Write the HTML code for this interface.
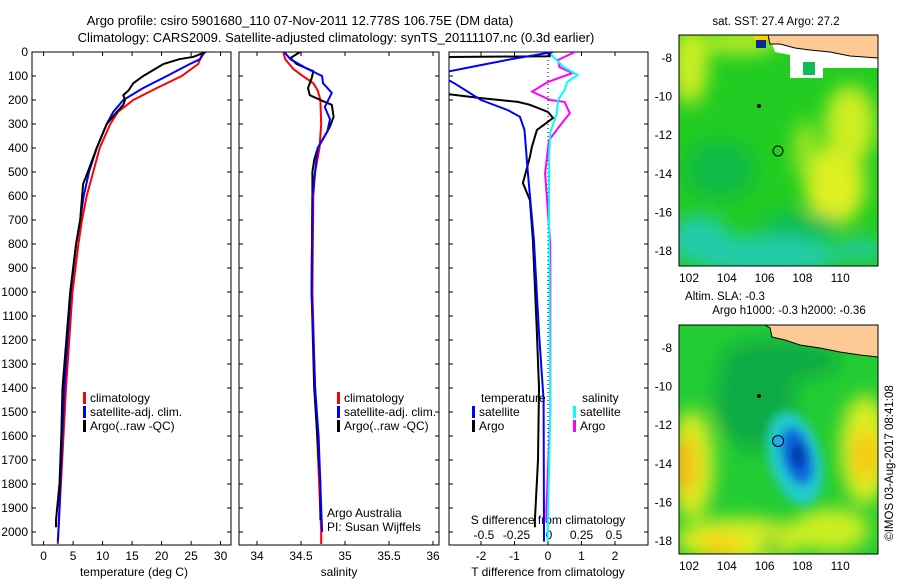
<!DOCTYPE html>
<html><head><meta charset="utf-8"><style>
body{margin:0;background:#fff;width:900px;height:580px;overflow:hidden;font-family:"Liberation Sans",sans-serif}
svg text{font-family:"Liberation Sans",sans-serif;fill:#000}
</style></head><body>
<svg id="c" width="900" height="580" xmlns="http://www.w3.org/2000/svg">
<defs>
<filter id="bl" x="-50%" y="-50%" width="200%" height="200%"><feGaussianBlur stdDeviation="9"/></filter>
<filter id="bl2" x="-50%" y="-50%" width="200%" height="200%"><feGaussianBlur stdDeviation="5"/></filter>
<clipPath id="cp1"><rect x="32" y="52" width="199" height="493"/></clipPath>
<clipPath id="cp2"><rect x="239" y="52" width="200" height="493"/></clipPath>
<clipPath id="cp3"><rect x="449" y="52" width="199" height="493"/></clipPath>
<clipPath id="cm1"><rect x="679" y="35" width="199" height="231"/></clipPath>
<clipPath id="cm2"><rect x="679" y="325" width="199" height="229"/></clipPath>
</defs>
<text x="300" y="25" font-size="13" text-anchor="middle">Argo profile: csiro 5901680_110 07-Nov-2011 12.778S 106.75E (DM data)</text>
<text x="336" y="42" font-size="13" text-anchor="middle">Climatology: CARS2009. Satellite-adjusted climatology: synTS_20111107.nc (0.3d earlier)</text>
<g id="g"></g>
<!-- maps -->
<g>
<text x="776" y="25" font-size="11.5" text-anchor="middle">sat. SST: 27.4 Argo: 27.2</text>
<g clip-path="url(#cm1)">
<rect x="679" y="35" width="199" height="231" fill="#22cc22"/>
<g filter="url(#bl)">
<ellipse cx="690" cy="65" rx="18" ry="40" fill="#ccee22"/>
<ellipse cx="740" cy="42" rx="40" ry="12" fill="#bbee22"/>
<ellipse cx="835" cy="185" rx="30" ry="40" fill="#ddf022"/>
<ellipse cx="850" cy="125" rx="25" ry="40" fill="#ccee22"/>
<ellipse cx="805" cy="150" rx="12" ry="30" fill="#99e622"/>
<ellipse cx="720" cy="170" rx="35" ry="30" fill="#11bb44"/>
<ellipse cx="765" cy="255" rx="75" ry="20" fill="#22ccaa"/>
<ellipse cx="700" cy="240" rx="30" ry="25" fill="#22ccaa"/>
<ellipse cx="860" cy="250" rx="25" ry="12" fill="#22cc99"/>
<ellipse cx="800" cy="225" rx="40" ry="12" fill="#11bb55"/>
</g>
<path d="M770,38 L800,44 L878,55 L878,68 L823,68 L823,78 L790,78 L790,55 L775,52Z" fill="#fff"/>
<rect x="803" y="62" width="12" height="13" fill="#11bb55"/>
<path d="M768,35 L878,35 L878,58 L850,56 L830,52 L810,50 L795,48 L780,44 L770,44Z" fill="#fdca96" stroke="#000" stroke-width="1"/>
<rect x="756" y="40" width="10" height="8" fill="#0a2a9a"/>
<rect x="754" y="36" width="14" height="4" fill="#ffcc00"/>
<circle cx="759" cy="106" r="2" fill="#000"/>
<circle cx="778" cy="151" r="5" fill="none" stroke="#000"/>
</g>
<rect x="679" y="35" width="199" height="231" fill="none" stroke="#000"/>
</g>
<g>
<text x="725" y="300" font-size="11.5" text-anchor="middle">Altim. SLA: -0.3</text>
<text x="789" y="314" font-size="11.5" text-anchor="middle">Argo h1000: -0.3 h2000: -0.36</text>
<g clip-path="url(#cm2)">
<rect x="679" y="325" width="199" height="229" fill="#22cc33"/>
<g filter="url(#bl)">
<ellipse cx="692" cy="465" rx="22" ry="55" fill="#ddee22"/>
<ellipse cx="684" cy="465" rx="10" ry="30" fill="#ffaa11"/>
<ellipse cx="865" cy="450" rx="25" ry="55" fill="#ddee22"/>
<ellipse cx="865" cy="455" rx="10" ry="25" fill="#ffbb11"/>
<ellipse cx="740" cy="540" rx="65" ry="22" fill="#ddee22"/>
<ellipse cx="720" cy="545" rx="20" ry="10" fill="#ffcc11"/>
<ellipse cx="830" cy="530" rx="40" ry="22" fill="#ccee22"/>
<ellipse cx="772" cy="545" rx="10" ry="10" fill="#22cc33"/>
<ellipse cx="755" cy="400" rx="40" ry="50" fill="#11aa44"/>
<ellipse cx="780" cy="360" rx="60" ry="20" fill="#11aa44"/>
</g>
<g filter="url(#bl2)">
<ellipse cx="795" cy="458" rx="26" ry="48" fill="#22cccc" transform="rotate(-15 795 458)"/>
<ellipse cx="797" cy="456" rx="15" ry="30" fill="#1166dd" transform="rotate(-15 797 456)"/>
<ellipse cx="798" cy="456" rx="7" ry="13" fill="#0033aa"/>
</g>
<path d="M765,325 L878,325 L878,357 L860,355 L840,352 L820,348 L800,345 L785,340 L772,337 L770,328Z" fill="#fdca96" stroke="#000" stroke-width="1"/>
<circle cx="759" cy="396" r="2" fill="#000"/>
<circle cx="778" cy="441" r="5.5" fill="#22aaee" stroke="#000"/>
</g>
<rect x="679" y="325" width="199" height="229" fill="none" stroke="#000"/>
</g>
<text transform="translate(893,463) rotate(-90)" font-size="11.5" text-anchor="middle">©IMOS 03-Aug-2017 08:41:08</text>
</svg>
<script>
// ---- data ----
const tDepthRed=[0,50,100,150,200,250,300,400,500,600,700,800,1000,1400,2000,2050];
const tRed=[27,26.2,23.4,19.2,15.2,12.6,11.3,9.5,8.4,7.3,6.5,5.9,4.9,3.8,2.5,2.4];
const tDepthBlue=[0,30,50,100,150,200,250,300,400,500,600,700,800,1000,1400,2000,2040];
const tBlue=[27.3,26.5,24.8,20.9,16.9,13.5,11.8,10.7,9.0,7.7,6.8,6.2,5.5,4.6,3.5,2.5,2.4];
const tDepthArgo=[0,20,30,50,100,130,160,180,200,220,250,300,400,500,550,700,800,1000,1400,1600,1800,1950,1980];
const tArgo=[27.5,25.4,23,20.3,16.9,15.2,14.4,13.5,13.8,13.5,12.4,10.7,9.0,7.5,6.7,6.2,5.5,4.5,3.2,3.0,2.7,2.1,2.1];
const sDepthRed=[0,30,70,100,130,160,200,300,400,500,600,1000,1400,2000,2050];
const sRed=[34.30,34.32,34.41,34.52,34.64,34.69,34.72,34.73,34.71,34.66,34.64,34.63,34.66,34.73,34.73];
const sDepthBlue=[0,30,70,100,130,170,200,230,280,330,400,500,600,1000,1400,1600,2000];
const sBlue=[34.31,34.38,34.57,34.74,34.75,34.85,34.81,34.77,34.83,34.80,34.69,34.66,34.63,34.62,34.66,34.70,34.74];
const sDepthArgo=[0,25,50,80,110,150,180,200,220,270,310,350,400,450,500,600,1000,1400,1800,1950];
const sArgo=[34.49,34.38,34.45,34.64,34.62,34.58,34.60,34.72,34.85,34.87,34.83,34.77,34.69,34.65,34.63,34.63,34.62,34.65,34.72,34.72];
const dtDepthSat=[0,30,60,82,100,130,200,242,270,325,505,783,1170,1450,2000,2040];
const dtSat=[0.15,-1.1,-2.2,-3,-3.2,-2.8,-2.0,-1.2,-0.84,-0.7,-0.6,-0.42,-0.27,-0.13,-0.12,-0.12];
const dtDepthArgo=[0,18,21,100,172,192,208,220,250,275,325,395,437,546,617,783,1170,1400,1700,1950,1980];
const dtArgo=[0.05,0.05,-3.2,-3.2,-3.2,-2,-0.9,-0.54,0,0.15,-0.33,-0.48,-0.54,-0.75,-0.54,-0.45,-0.33,-0.27,-0.3,-0.39,-0.39];
const dsDepthSat=[0,7,62,96,125,158,200,255,337,437,645,1500,2000,2040];
const dsSat=[0.01,0.01,0.11,0.22,0.14,0.12,0.07,0.06,0.01,0,0,0.01,-0.01,-0.01];
const dsDepthArgo=[0,33,62,88,125,165,200,208,255,310,367,505,800,1500,1900,1960];
const dsArgo=[0.2,0.07,0.08,0.18,-0.01,-0.13,0.01,0.12,0.16,0.08,0,-0.03,0.01,0.01,-0.02,-0.02];
const depthTicks=[0,100,200,300,400,500,600,700,800,900,1000,1100,1200,1300,1400,1500,1600,1700,1800,1900,2000];
const tTicks=[0,5,10,15,20,25,30];
const sTicks=[34,34.5,35,35.5,36];
const dtTicks=[-2,-1,0,1,2];
const dsTicks=[-0.5,-0.25,0,0.25,0.5];
const dsTickLabels=["-0.5","-0.25","0","0.25","0.5"];
// ---- axes ----
const yD=d=>52+d*0.24;
const xT=t=>43.6+t*5.9;
const xS=s=>257+(s-34)*88;
const xDT=v=>548+v*33.5;
const xDS=v=>549+v*130;
const NS="http://www.w3.org/2000/svg";
const g=document.getElementById('g');
function mk(tag,attrs,parent){const e=document.createElementNS(NS,tag);for(const k in attrs)e.setAttribute(k,attrs[k]);(parent||g).appendChild(e);return e;}
function line(xs,ds,xf,color,clip,name){
  const pts=xs.map((v,i)=>xf(v).toFixed(1)+','+yD(ds[i]).toFixed(1)).join(' ');
  const e=mk('polyline',{points:pts,fill:'none',stroke:color,'stroke-width':2,'clip-path':'url(#'+clip+')'});
  
  
}
function text(x,y,s,anchor,name,size){
  const e=mk('text',{x:x,y:y,'font-size':size||12,'text-anchor':anchor||'start'});e.textContent=s;
  
  
  return e;
}
function frame(x,w,name){
  const e=mk('rect',{x:x,y:52,width:w,height:493,fill:'none',stroke:'#000'});
  
  
}
const panels=[[32,199],[239,200],[449,199]];
panels.forEach((p,i)=>{
  frame(p[0],p[1],'panel-frame-'+(i+1));
  depthTicks.forEach(d=>{const y=yD(d);mk('line',{x1:p[0],x2:p[0]+4,y1:y,y2:y,stroke:'#000'});mk('line',{x1:p[0]+p[1]-4,x2:p[0]+p[1],y1:y,y2:y,stroke:'#000'});});
});
depthTicks.forEach(d=>text(28,yD(d)+4,String(d),'end','depth-tick-label'));
function xticks(ticks,f,labels,y,name){ticks.forEach((t,i)=>{const x=f(t);mk('line',{x1:x,x2:x,y1:545,y2:541,stroke:'#000'});mk('line',{x1:x,x2:x,y1:52,y2:56,stroke:'#000'});text(x,y,labels?labels[i]:String(t),'middle',name);});}
xticks(tTicks,xT,null,560,'temperature-tick-label');
xticks(sTicks,xS,null,560,'salinity-tick-label');
xticks(dtTicks,xDT,null,560,'t-diff-tick-label');
dsTicks.forEach((t,i)=>text(xDS(t),539,dsTickLabels[i],'middle','s-diff-tick-label'));
text(134,576,'temperature (deg C)','middle','x-axis-title-temperature');
text(339,576,'salinity','middle','x-axis-title-salinity');
text(548,576,'T difference from climatology','middle','x-axis-title-t-diff');
text(548,524,'S difference from climatology','middle','x-axis-title-s-diff');
mk('line',{x1:548,x2:548,y1:52,y2:545,stroke:'#000','stroke-dasharray':'1,3'});
// series
line(tRed,tDepthRed,xT,'#f00','cp1','temp-climatology-line');
line(tBlue,tDepthBlue,xT,'#00f','cp1','temp-satellite-line');
line(tArgo,tDepthArgo,xT,'#000','cp1','temp-argo-line');
line(sRed,sDepthRed,xS,'#f00','cp2','sal-climatology-line');
line(sArgo,sDepthArgo,xS,'#000','cp2','sal-argo-line');
line(sBlue,sDepthBlue,xS,'#00f','cp2','sal-satellite-line');
line(dsArgo,dsDepthArgo,xDS,'#f0f','cp3','s-diff-argo-line');
line(dsSat,dsDepthSat,xDS,'#0ff','cp3','s-diff-satellite-line');
line(dtArgo,dtDepthArgo,xDT,'#000','cp3','t-diff-argo-line');
line(dtSat,dtDepthSat,xDT,'#00f','cp3','t-diff-satellite-line');
// legends
function leg(x,y,color,label,name){mk('rect',{x:x,y:y-10,width:3,height:12,fill:color});text(x+7,y,label,'start',name);}
leg(83,402,'#f00','climatology','legend-climatology');
leg(83,416,'#00f','satellite-adj. clim.','legend-satellite');
leg(83,430,'#000','Argo(..raw -QC)','legend-argo');
leg(337,402,'#f00','climatology','legend-climatology-2');
leg(337,416,'#00f','satellite-adj. clim.','legend-satellite-2');
leg(337,430,'#000','Argo(..raw -QC)','legend-argo-2');
text(481,402,'temperature','start','legend-temperature-heading');
text(582,402,'salinity','start','legend-salinity-heading');
leg(472,416,'#00f','satellite','legend-t-satellite');
leg(472,430,'#000','Argo','legend-t-argo');
leg(573,416,'#0ff','satellite','legend-s-satellite');
leg(573,430,'#f0f','Argo','legend-s-argo');
text(327,517,'Argo Australia','start','credit-argo-australia');
text(327,531,'PI: Susan Wijffels','start','credit-pi');
// map ticks
const lonTicks=[102,104,106,108,110];
const latTicks=[-8,-10,-12,-14,-16,-18];
const xLon=l=>689+(l-102)*18.9;
[[58,35,266],[348,325,554]].forEach((m,mi)=>{
  const yLat=la=>m[0]+(-8-la)*19.3;
  lonTicks.forEach(l=>{const x=xLon(l);mk('line',{x1:x,x2:x,y1:m[2],y2:m[2]-4,stroke:'#000'});mk('line',{x1:x,x2:x,y1:m[1],y2:m[1]+4,stroke:'#000'});text(x,m[2]+16,String(l),'middle','map'+(mi+1)+'-lon-label');});
  latTicks.forEach(la=>{const y=yLat(la);mk('line',{x1:679,x2:683,y1:y,y2:y,stroke:'#000'});mk('line',{x1:874,x2:878,y1:y,y2:y,stroke:'#000'});text(672,y+4,String(la),'end','map'+(mi+1)+'-lat-label');});
});
</script>
</body></html>
